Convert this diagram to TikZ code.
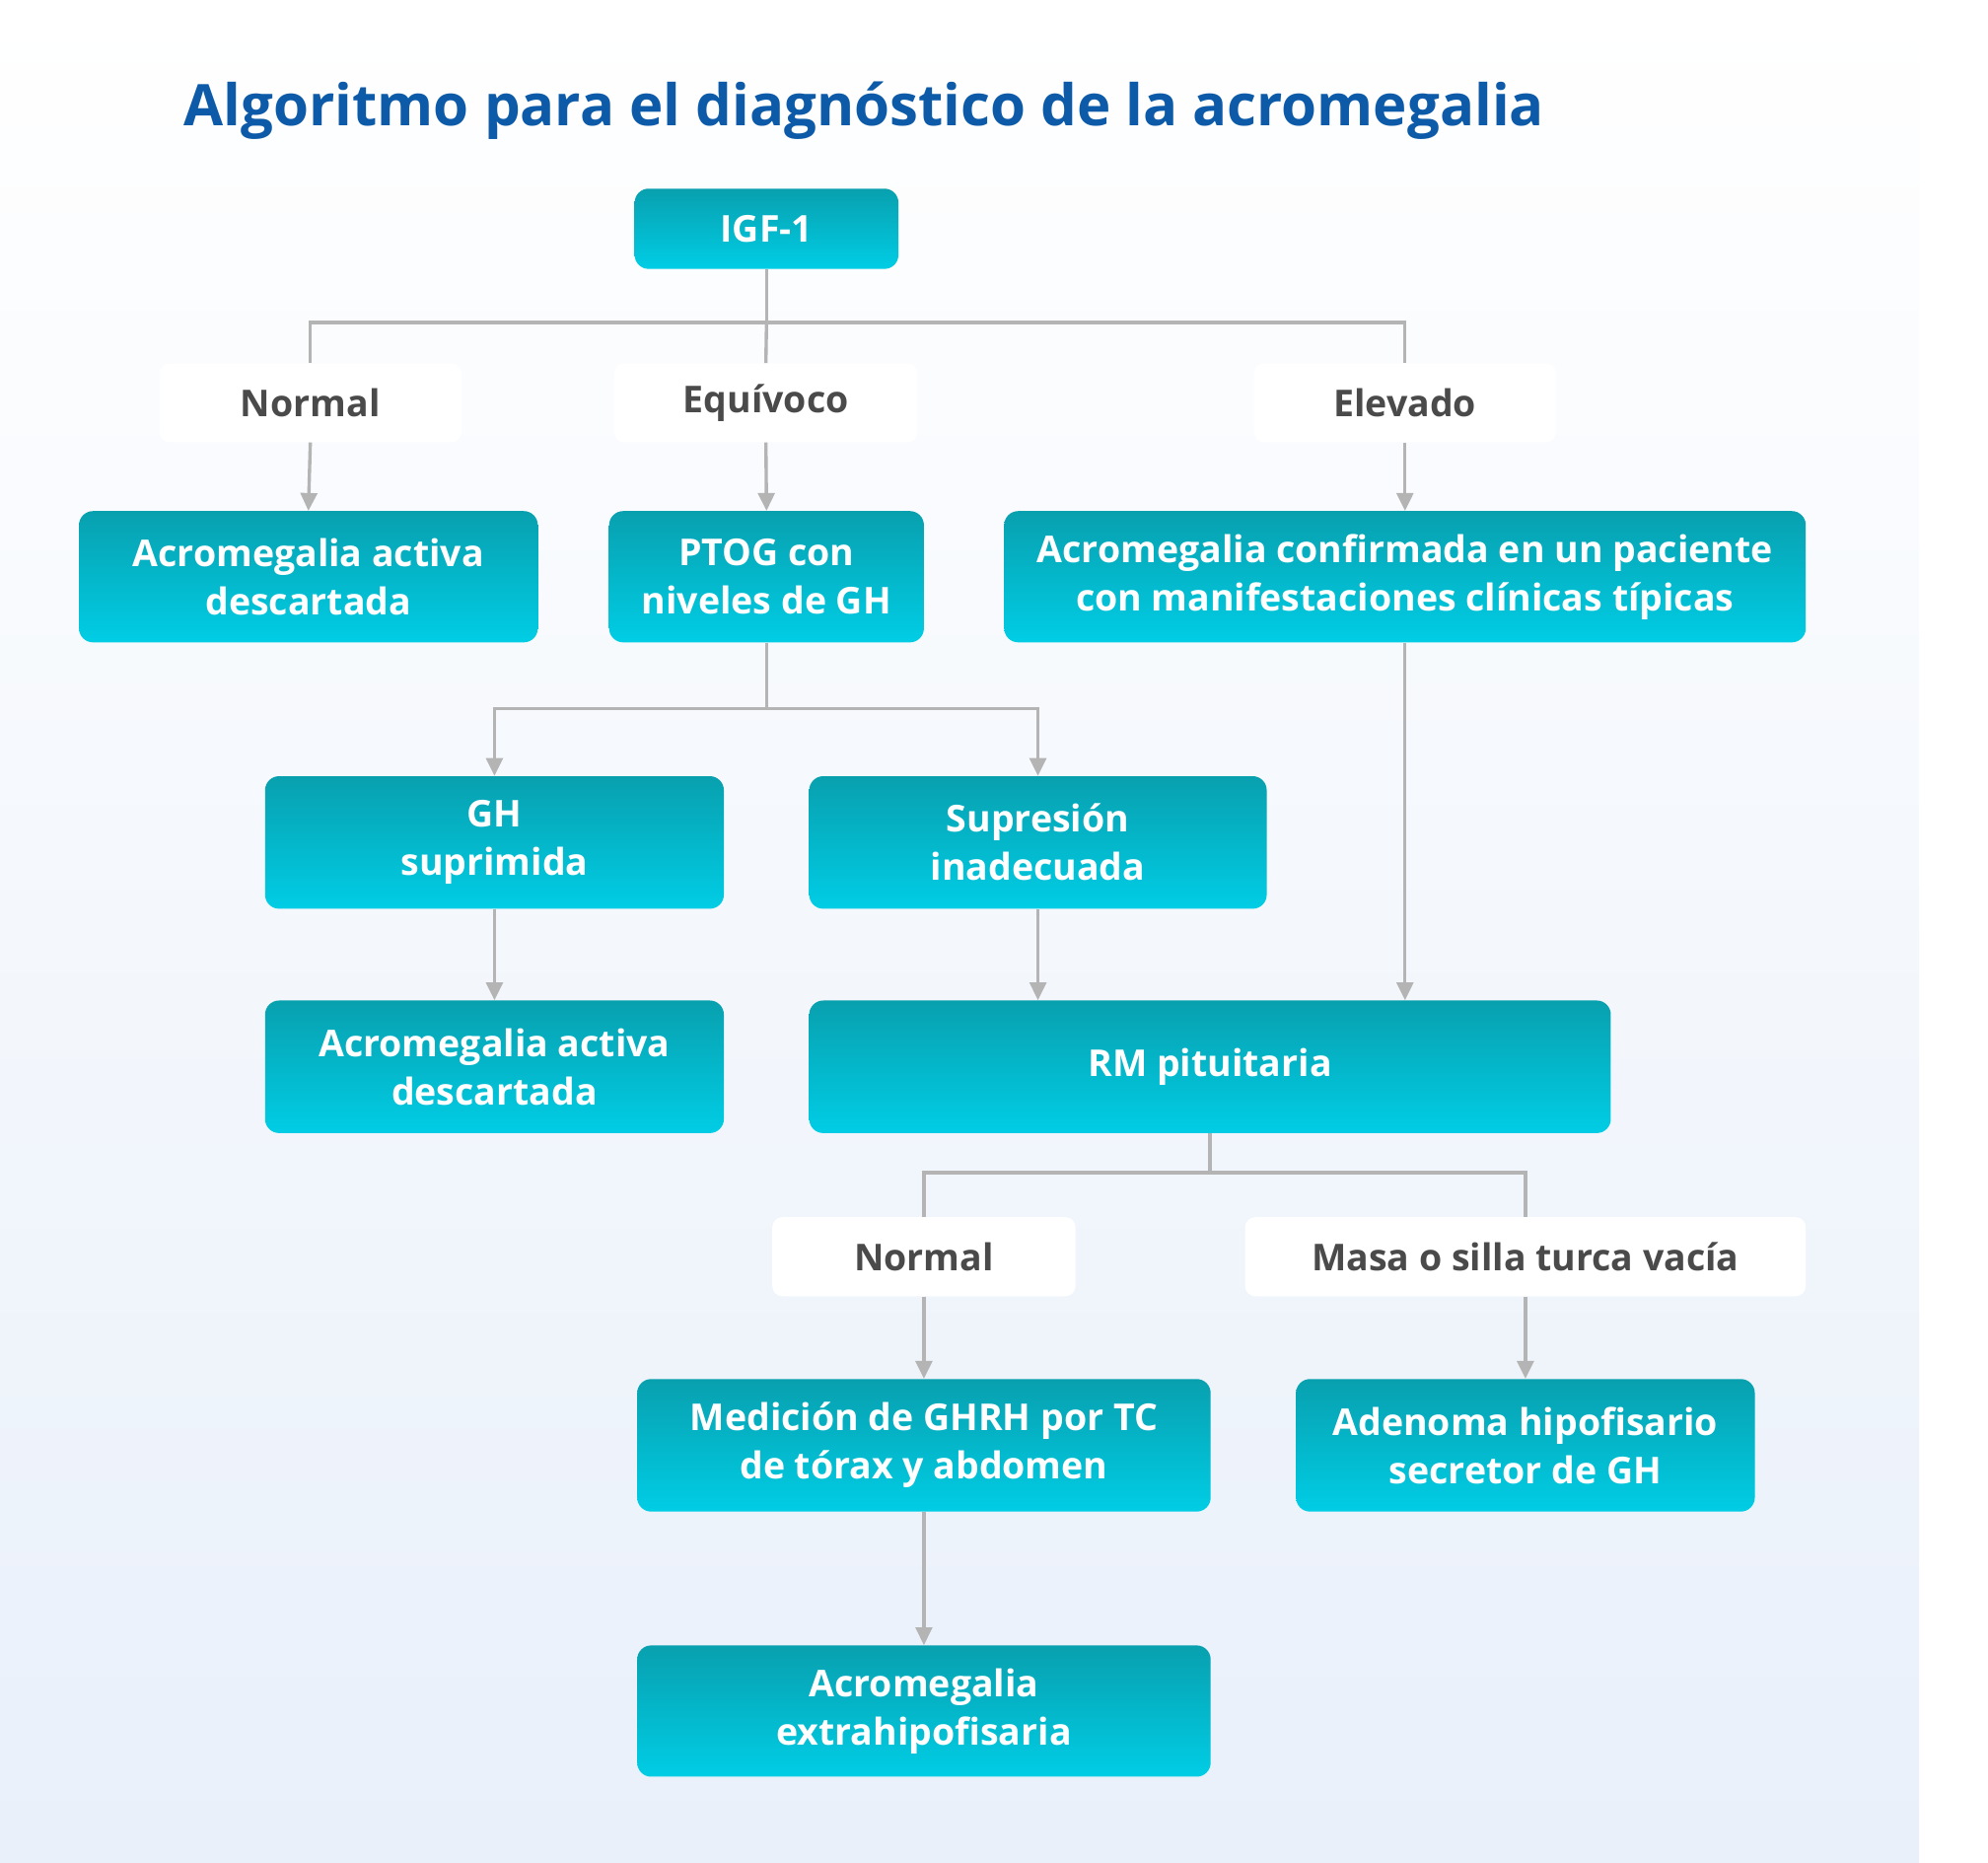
\documentclass[tikz,border=0pt]{standalone}
\usepackage{fontspec}
\setmainfont{Open Sans}
\usetikzlibrary{arrows.meta}
\definecolor{ttl}{HTML}{0D5BA8}
\definecolor{btop}{HTML}{08A0AF}
\definecolor{bbot}{HTML}{00CDE5}
\definecolor{cn}{HTML}{B4B4B4}
\definecolor{lbl}{HTML}{4A4A4A}
\tikzset{
 box/.style={rounded corners=11pt, top color=btop, bottom color=bbot, draw=none, text=white, font=\fontsize{29}{38}\selectfont\bfseries, align=center, inner sep=0pt},
 lab/.style={rounded corners=8pt, fill=white, text=lbl, font=\fontsize{29}{36}\selectfont\bfseries, minimum height=62pt, inner sep=0pt},
 conn/.style={draw=cn, line width=2.6pt},
 arr/.style={conn, -{Triangle[length=14pt,width=13pt]}}
}
\begin{document}
\begin{tikzpicture}[x=1pt,y=-1pt]
\useasboundingbox (0,0) rectangle (1560,1461);
\fill[white] (0,0) rectangle (1560,1461);
\shade[top color=white, bottom color={rgb,255:red,233;green,240;blue,250}] (0,0) rectangle (1506,1461);
\node[anchor=west, text=ttl, font=\fontsize{45}{50}\selectfont\bfseries] (title) at (141,87) {Algoritmo para el diagnóstico de la acromegalia};
% row boxes
\node[box, minimum width=207pt, minimum height=63pt] (igf) at (601.5,179.5) {IGF-1};
\node[lab, minimum width=237pt] (n1) at (243.5,316) {Normal};
\node[lab, minimum width=238pt] (eq) at (601,316) {Equívoco};
\node[lab, minimum width=237pt] (el) at (1102.5,316) {Elevado};
\node[box, minimum width=360pt, minimum height=103pt] (a1) at (242,452.5) {Acromegalia activa\\descartada};
\node[box, minimum width=247pt, minimum height=103pt] (pt) at (601.5,452.5) {PTOG con\\niveles de GH};
\node[box, minimum width=629pt, minimum height=103pt] (ac) at (1102.5,452.5) {Acromegalia confirmada en un paciente\\con manifestaciones clínicas típicas};
\node[box, minimum width=360pt, minimum height=104pt] (gh) at (388,661) {GH\\suprimida};
\node[box, minimum width=359pt, minimum height=104pt] (su) at (814.5,661) {Supresión\\inadecuada};
\node[box, minimum width=360pt, minimum height=104pt] (a2) at (388,837) {Acromegalia activa\\descartada};
\node[box, minimum width=629pt, minimum height=104pt] (rm) at (949.5,837) {RM pituitaria};
\node[lab, minimum width=238pt] (n2) at (725,986) {Normal};
\node[lab, minimum width=440pt] (ma) at (1197,986) {Masa o silla turca vacía};
\node[box, minimum width=450pt, minimum height=104pt] (me) at (725,1134) {Medición de GHRH por TC\\de tórax y abdomen};
\node[box, minimum width=360pt, minimum height=104pt] (ad) at (1197,1134) {Adenoma hipofisario\\secretor de GH};
\node[box, minimum width=450pt, minimum height=103pt] (ex) at (725,1342.5) {Acromegalia\\extrahipofisaria};
% connectors
\coordinate (b1) at (601.5,253);
\draw[conn] (igf.south) -- (b1);
\draw[conn] (n1.north) -- (n1.north |- b1) -- (el.north |- b1) -- (el.north);
\draw[conn] (b1) -- (eq.north);
\draw[arr] (n1.south) -- (a1.north);
\draw[arr] (eq.south) -- (pt.north);
\draw[arr] (el.south) -- (ac.north);
\coordinate (b2) at (601.5,556);
\draw[conn] (pt.south) -- (b2);
\draw[arr] (b2) -| (gh.north);
\draw[arr] (b2) -| (su.north);
\draw[arr] (gh.south) -- (a2.north);
\draw[arr] (su.south) -- (su.south |- rm.north);
\draw[arr] (ac.south) -- (ac.south |- rm.north);
\coordinate (b3) at (949.5,920);
\draw[conn] (rm.south) -- (b3);
\draw[conn] (n2.north) -- (n2.north |- b3) -- (ma.north |- b3) -- (ma.north);
\draw[arr] (n2.south) -- (me.north);
\draw[arr] (ma.south) -- (ad.north);
\draw[arr] (me.south) -- (ex.north);
\end{tikzpicture}
\end{document}
